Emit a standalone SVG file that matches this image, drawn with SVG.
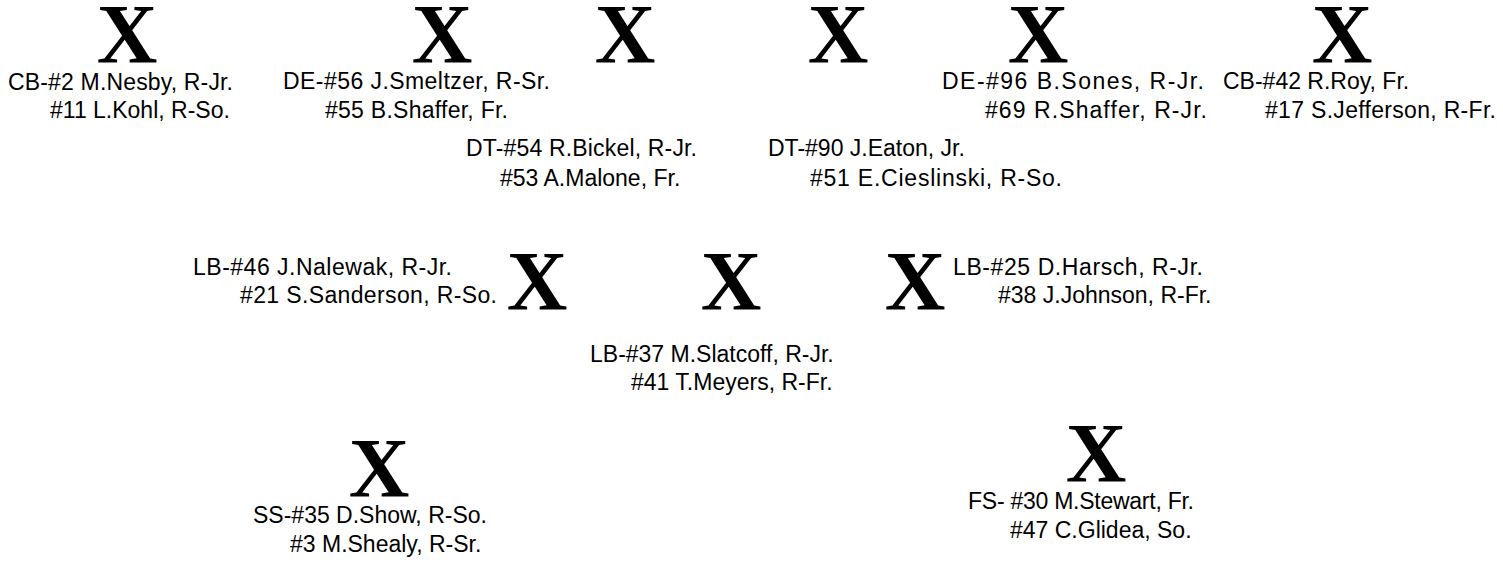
<svg xmlns="http://www.w3.org/2000/svg" width="1503" height="575" viewBox="0 0 1503 575">
<style>
.x{font-family:"Liberation Serif","Times New Roman",serif;font-weight:bold;font-size:84px;fill:#000;text-anchor:middle}
.t{font-family:"Liberation Sans",Arial,sans-serif;font-size:23px;fill:#000}
</style>
<rect width="1503" height="575" fill="#fff"/>
<g id="connectors"/>
<g id="cb-left"><text class="x" x="127" y="63">X</text><text class="t" x="8" y="90" textLength="225">CB-#2 M.Nesby, R-Jr.</text><text class="t" x="50" y="118">#11 L.Kohl, R-So.</text></g>
<g id="de-left"><text class="x" x="442" y="63">X</text><text class="t" x="283" y="89" textLength="267">DE-#56 J.Smeltzer, R-Sr.</text><text class="t" x="325" y="118" textLength="183">#55 B.Shaffer, Fr.</text></g>
<g id="dt-left"><text class="x" x="625" y="63">X</text><text class="t" x="466" y="156" textLength="231">DT-#54 R.Bickel, R-Jr.</text><text class="t" x="500" y="186">#53 A.Malone, Fr.</text></g>
<g id="dt-right"><text class="x" x="838" y="63">X</text><text class="t" x="768" y="156">DT-#90 J.Eaton, Jr.</text><text class="t" x="810" y="186" textLength="252">#51 E.Cieslinski, R-So.</text></g>
<g id="de-right"><text class="x" x="1038" y="63">X</text><text class="t" x="942" y="89" textLength="262">DE-#96 B.Sones, R-Jr.</text><text class="t" x="985" y="118" textLength="222">#69 R.Shaffer, R-Jr.</text></g>
<g id="cb-right"><text class="x" x="1342" y="63">X</text><text class="t" x="1223" y="89">CB-#42 R.Roy, Fr.</text><text class="t" x="1265" y="118" textLength="231">#17 S.Jefferson, R-Fr.</text></g>
<g id="lb-left"><text class="x" x="537" y="310">X</text><text class="t" x="193" y="275" textLength="259">LB-#46 J.Nalewak, R-Jr.</text><text class="t" x="240" y="303" textLength="257">#21 S.Sanderson, R-So.</text></g>
<g id="lb-middle"><text class="x" x="731" y="310">X</text><text class="t" x="590" y="362">LB-#37 M.Slatcoff, R-Jr.</text><text class="t" x="631" y="390">#41 T.Meyers, R-Fr.</text></g>
<g id="lb-right"><text class="x" x="915" y="310">X</text><text class="t" x="953" y="275" textLength="250">LB-#25 D.Harsch, R-Jr.</text><text class="t" x="998" y="303">#38 J.Johnson, R-Fr.</text></g>
<g id="ss"><text class="x" x="379" y="497">X</text><text class="t" x="253" y="523">SS-#35 D.Show, R-So.</text><text class="t" x="290" y="552">#3 M.Shealy, R-Sr.</text></g>
<g id="fs"><text class="x" x="1096" y="482">X</text><text class="t" x="968" y="509" textLength="226">FS- #30 M.Stewart, Fr.</text><text class="t" x="1010" y="538">#47 C.Glidea, So.</text></g>
</svg>
